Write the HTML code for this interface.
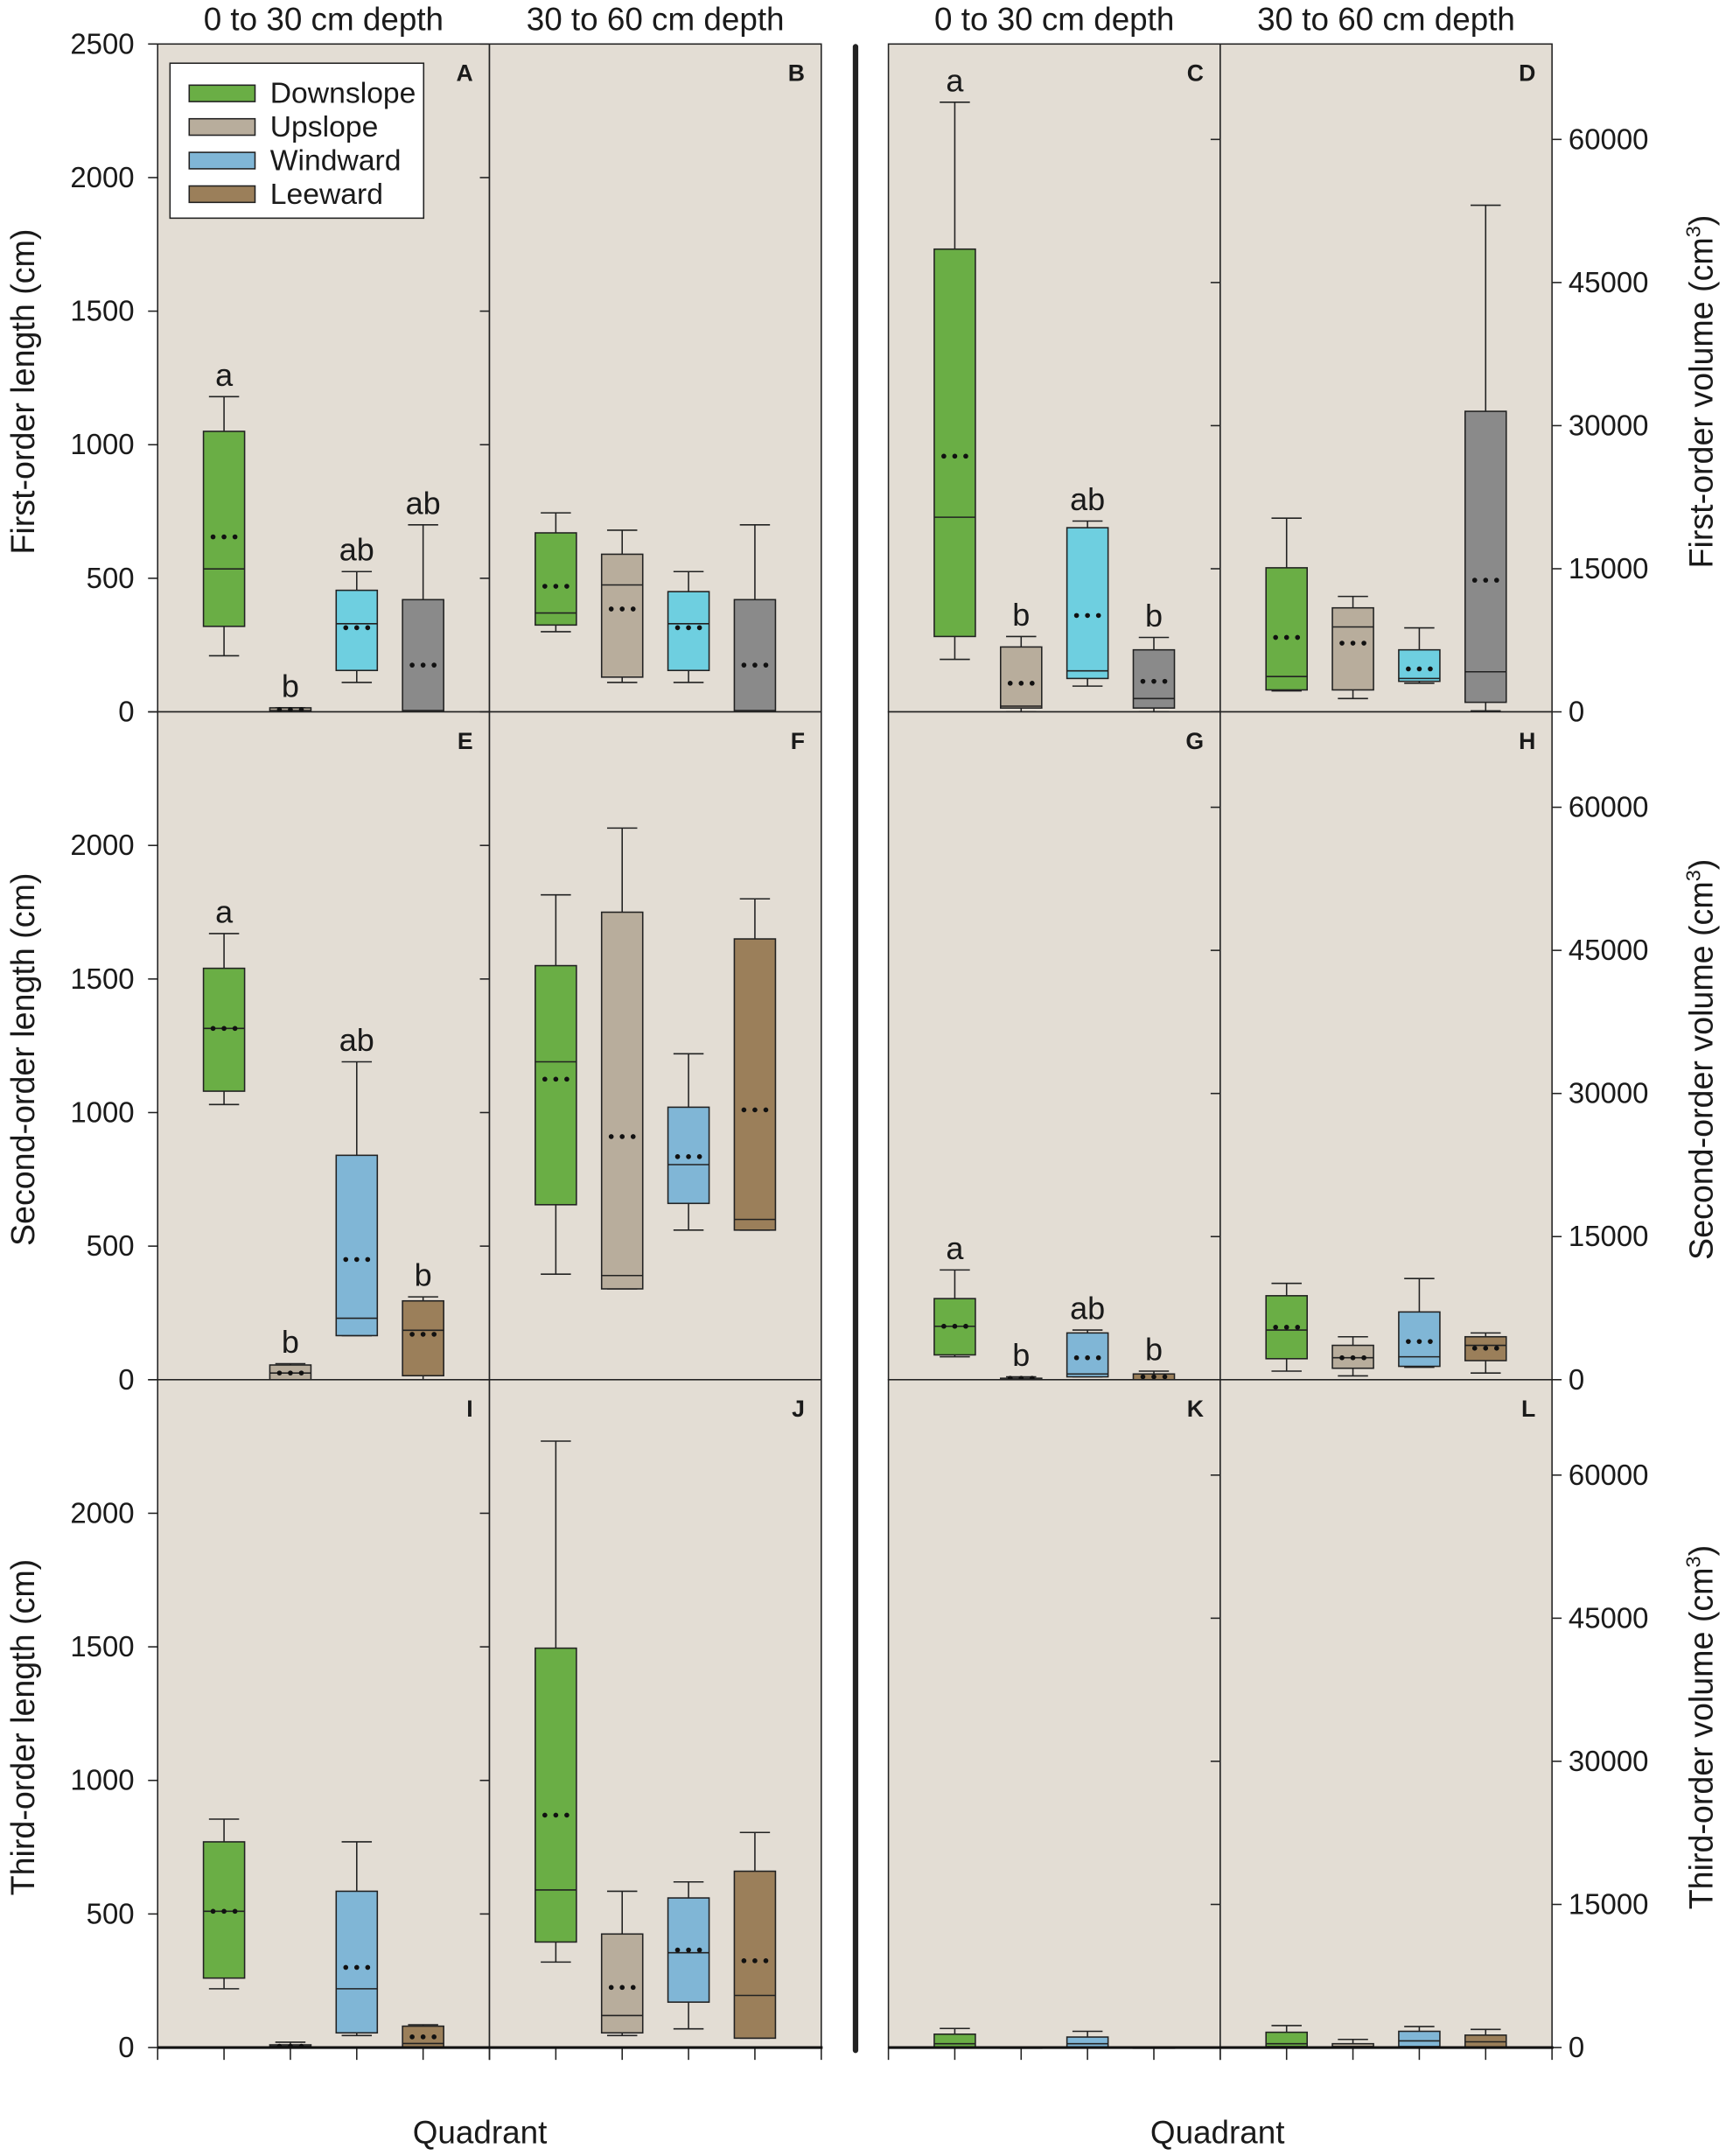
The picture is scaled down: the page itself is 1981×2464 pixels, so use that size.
<!DOCTYPE html>
<html><head><meta charset="utf-8"><style>
html,body{margin:0;padding:0;background:#fff}
svg{display:block}
text{font-family:"Liberation Sans",sans-serif;fill:#1a1a1a}
</style></head><body>
<svg id="chart" width="1981" height="2464" viewBox="0 0 1264 1572" xmlns="http://www.w3.org/2000/svg"></svg>
<script>
// Panel order: A,B,C,D,E,F,G,H,I,J,K,L ; each row = [Downslope, Upslope, Windward, Leeward]
const panelLabels = ["A","B","C","D","E","F","G","H","I","J","K","L"];
const categories = ["Downslope","Upslope","Windward","Leeward"];
const whiskerLow = [[210,0,110,0],[300,110,110,0],[5500,0,2700,0],[2200,1400,3000,100],
  [1030,0,165,0],[395,340,560,560],[2400,0,300,0],[900,400,1300,700],
  [220,0,45,0],[320,45,70,35],[0,0,0,0],[100,0,100,0]];
const q1 = [[320,0,155,0],[325,130,155,0],[7900,400,3500,400],[2300,2300,3200,1000],
  [1080,0,165,15],[655,340,660,560],[2600,0,300,0],[2200,1200,1400,2000],
  [260,0,55,0],[395,55,170,35],[0,0,0,0],[100,0,100,0]];
const median = [[535,5,330,5],[370,475,330,5],[20400,600,4300,1400],[3700,8900,3500,4200],
  [1315,25,230,185],[1190,390,805,600],[5600,0,600,0],[5200,2300,2400,3600],
  [510,5,220,15],[590,120,355,195],[400,0,400,0],[400,100,700,600]];
const q3 = [[1050,15,455,420],[670,590,450,420],[48500,6800,19300,6500],[15100,10900,6500,31500],
  [1540,55,840,295],[1550,1750,1020,1650],[8500,150,4900,600],[8800,3600,7100,4500],
  [770,10,585,80],[1495,425,560,660],[1400,0,1100,0],[1600,400,1700,1300]];
const whiskerHigh = [[1180,15,525,700],[745,680,525,700],[63900,7900,20000,7800],[20300,12100,8800,53100],
  [1670,60,1190,310],[1815,2065,1220,1800],[11500,300,5200,900],[10100,4500,10600,4900],
  [855,20,770,85],[2270,585,620,805],[2000,0,1700,0],[2300,850,2200,1900]];
const means = [[655,8,315,175],[470,385,315,175],[26800,3000,10100,3200],[7800,7200,4500,13800],
  [1315,25,450,170],[1125,910,835,1010],[5600,150,2300,300],[5500,2300,4000,3300],
  [510,5,300,40],[870,225,365,325],[null,null,null,null],[null,null,null,null]];
const sigLetters = [["a","b","ab","ab"],["","","",""],["a","b","ab","b"],["","","",""],
  ["a","b","ab","b"],["","","",""],["a","b","ab","b"],["","","",""],
  ["","","",""],["","","",""],["","","",""],["","","",""]];
const leftTicks = [0,500,1000,1500,2000,2500];
const rightTicks = [0,15000,30000,45000,60000];
const depthTitles = ["0 to 30 cm depth","30 to 60 cm depth","0 to 30 cm depth","30 to 60 cm depth"];
const leftTitles = ["First-order length (cm)","Second-order length (cm)","Third-order length (cm)"];
const rightTitles = ["First-order volume (cm","Second-order volume (cm","Third-order volume (cm"];

const NS="http://www.w3.org/2000/svg";
const svg=document.getElementById('chart');
function mk(tag,attrs,parent){const e=document.createElementNS(NS,tag);for(const k in attrs)e.setAttribute(k,attrs[k]);(parent||svg).appendChild(e);return e;}
const colX=[115,357,648,890], PW=242, rowY=[32,519,1006], PH=487;
const LMAX=2500, RMAX=70000;
function yScale(row,isRight,v){const max=isRight?RMAX:LMAX;return rowY[row]+PH-(v/max)*PH;}
function xScale(col,i){return colX[col]+PW*(i+1)/5;}
const cols=[["#6aae45","#b8ad9c","#6ecfe0","#8a8a8a"],["#6aae45","#b8ad9c","#80b6d6","#9b7f5a"]];

for(let p=0;p<12;p++){
  const row=Math.floor(p/4), col=p%4, isRight=col>=2;
  const g=mk('g',{});
  
  
  mk('rect',{x:colX[col],y:rowY[row],width:PW,height:PH,fill:'#e3ddd4',stroke:'#222','stroke-width':1},g);
  const lt=mk('text',{x:colX[col]+PW-12,y:rowY[row]+27,'font-size':17,'font-weight':'bold','text-anchor':'end'},g);
  lt.textContent=panelLabels[p];
  
  
  for(let i=0;i<4;i++){
    const cx=xScale(col,i), bw=30, cw=22;
    const c=cols[row===0?0:1][i];
    const bg=mk('g',{},g);
    
    
    const yl=yScale(row,isRight,whiskerLow[p][i]), yh=yScale(row,isRight,whiskerHigh[p][i]);
    const y1=yScale(row,isRight,q1[p][i]), y3=yScale(row,isRight,q3[p][i]), ym=yScale(row,isRight,median[p][i]);
    mk('line',{x1:cx,x2:cx,y1:yh,y2:y3,stroke:'#222','stroke-width':1},bg);
    mk('line',{x1:cx,x2:cx,y1:y1,y2:yl,stroke:'#222','stroke-width':1},bg);
    mk('line',{x1:cx-cw/2,x2:cx+cw/2,y1:yh,y2:yh,stroke:'#222','stroke-width':1},bg);
    mk('line',{x1:cx-cw/2,x2:cx+cw/2,y1:yl,y2:yl,stroke:'#222','stroke-width':1},bg);
    mk('rect',{x:cx-bw/2,y:y3,width:bw,height:Math.max(y1-y3,0.5),fill:c,stroke:'#222','stroke-width':1},bg);
    mk('line',{x1:cx-bw/2,x2:cx+bw/2,y1:ym,y2:ym,stroke:'#222','stroke-width':1},bg);
    if(means[p][i]!==null){
      const yy=yScale(row,isRight,means[p][i]);
      for(const d of [-8,0,8]) mk('circle',{cx:cx+d,cy:yy,r:1.8,fill:'#111'},bg);
    }
    if(sigLetters[p][i]){
      const t=mk('text',{x:cx,y:yh-8,'font-size':23,'text-anchor':'middle'},bg);
      t.textContent=sigLetters[p][i];
    }
  }
  if(col===0||col===1){
    for(const v of leftTicks){
      const y=yScale(row,false,v);
      mk('line',{x1:colX[col]-7,x2:colX[col],y1:y,y2:y,stroke:'#222'});
    }
  }
  if(col===3){
    for(const v of rightTicks){const y=yScale(row,true,v);
      mk('line',{x1:colX[3],x2:colX[3]-7,y1:y,y2:y,stroke:'#222'});
      mk('line',{x1:colX[3]+PW,x2:colX[3]+PW+7,y1:y,y2:y,stroke:'#222'});}
  }
}
for(let row=0;row<3;row++){
  for(const v of leftTicks){
    if(row>0&&v===2500)continue;
    const t=mk('text',{x:98,y:yScale(row,false,v)+7,'font-size':21,'text-anchor':'end'});
    t.textContent=v;
    
    
  }
  for(const v of rightTicks){
    const t=mk('text',{x:1144,y:yScale(row,true,v)+7,'font-size':21,'text-anchor':'start'});
    t.textContent=v;
    
    
  }
  const lt=mk('text',{transform:`translate(25,${rowY[row]+PH/2+10}) rotate(-90)`,'font-size':24,'text-anchor':'middle'});
  lt.textContent=leftTitles[row];
  
  
  const rt=mk('text',{transform:`translate(1249,${rowY[row]+PH/2+10}) rotate(-90)`,'font-size':24,'text-anchor':'middle'});
  rt.innerHTML=rightTitles[row]+'<tspan dy="-9" font-size="15">3</tspan><tspan dy="9">)</tspan>';
  
  
}
for(let col=0;col<4;col++){
  const xs=[colX[col],colX[col]+PW];
  for(let i=0;i<4;i++)xs.push(xScale(col,i));
  for(const x of xs) mk('line',{x1:x,x2:x,y1:1493,y2:1502,stroke:'#222'});
}
mk('line',{x1:115,x2:600,y1:1493,y2:1493,stroke:'#111','stroke-width':2});
mk('line',{x1:648,x2:1133,y1:1493,y2:1493,stroke:'#111','stroke-width':2});
const sep=mk('line',{x1:624,x2:624,y1:34,y2:1495,stroke:'#222','stroke-width':4,'stroke-linecap':'round'});


for(let col=0;col<4;col++){
  const t=mk('text',{x:colX[col]+PW/2,y:22,'font-size':23.5,'text-anchor':'middle'});
  t.textContent=depthTitles[col];
  
  
}
for(const x of [350,888]){
  const t=mk('text',{x:x,y:1563,'font-size':23.5,'text-anchor':'middle'});
  t.textContent='Quadrant';
  
  
}
const lg=mk('g',{});


mk('rect',{x:124,y:46,width:185,height:113,fill:'#fff',stroke:'#222','stroke-width':1},lg);
const legCols=["#6aae45","#b8ad9c","#80b6d6","#9b7f5a"];
for(let i=0;i<4;i++){
  const y=68+i*24.5;
  const e=mk('g',{},lg);
  
  
  mk('rect',{x:138,y:y-6,width:48,height:12,fill:legCols[i],stroke:'#222','stroke-width':1},e);
  const t=mk('text',{x:197,y:y+7,'font-size':21.5},e);
  t.textContent=categories[i];
}
</script>
</body></html>
